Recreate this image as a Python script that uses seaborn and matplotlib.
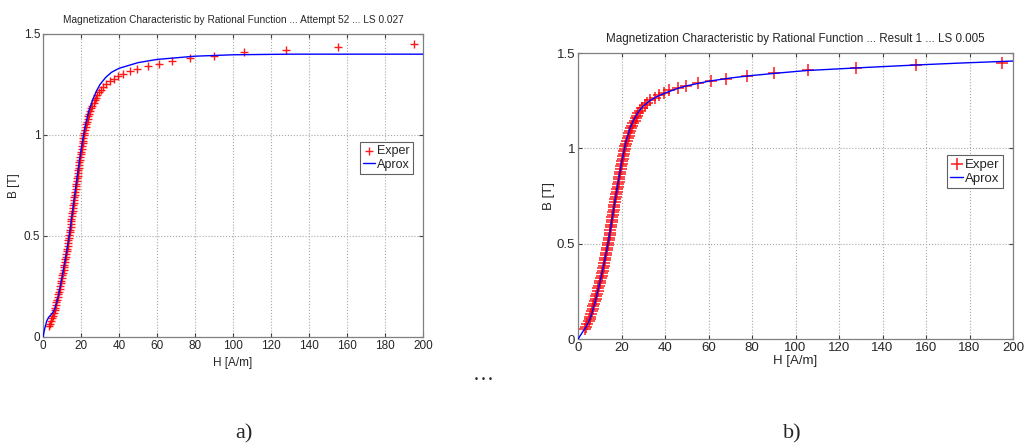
import pandas as pd
import seaborn as sns
import matplotlib.pyplot as plt

# experimental points (same set in both panels)
B_exp = [0.052, 0.065, 0.078, 0.092, 0.105, 0.118, 0.132, 0.145, 0.158, 0.172,
         0.185, 0.198, 0.212, 0.225, 0.238, 0.252, 0.265, 0.278, 0.292, 0.305,
         0.318, 0.332, 0.345, 0.358, 0.372, 0.385, 0.398, 0.412, 0.425, 0.438,
         0.452, 0.465, 0.478, 0.492, 0.505, 0.518, 0.532, 0.545, 0.558, 0.572,
         0.585, 0.598, 0.612, 0.625, 0.638, 0.652, 0.665, 0.678, 0.692, 0.705,
         0.718, 0.732, 0.745, 0.758, 0.772, 0.785, 0.798, 0.812, 0.825, 0.838,
         0.852, 0.865, 0.878, 0.892, 0.905, 0.918, 0.932, 0.945, 0.958, 0.972,
         0.985, 0.998, 1.012, 1.025, 1.038, 1.052, 1.065, 1.078, 1.092, 1.105,
         1.118, 1.132, 1.145, 1.158, 1.172, 1.185, 1.198, 1.212, 1.225, 1.238,
         1.251, 1.265, 1.278, 1.291, 1.304, 1.315, 1.327, 1.341, 1.352, 1.366,
         1.379, 1.393, 1.410, 1.421, 1.435, 1.449]
H_exp = [3.3, 3.8, 4.3, 4.9, 5.4, 5.7, 6.1, 6.4, 6.8, 7.1,
         7.4, 7.8, 8.1, 8.4, 8.7, 9.0, 9.3, 9.6, 9.9, 10.2,
         10.5, 10.8, 11.1, 11.3, 11.6, 11.8, 12.0, 12.3, 12.5, 12.7,
         13.0, 13.2, 13.4, 13.7, 13.9, 14.1, 14.3, 14.5, 14.7, 14.9,
         15.0, 15.2, 15.4, 15.6, 15.7, 15.9, 16.1, 16.3, 16.5, 16.7,
         16.9, 17.2, 17.4, 17.6, 17.8, 18.0, 18.2, 18.4, 18.6, 18.8,
         19.0, 19.2, 19.4, 19.7, 19.9, 20.1, 20.3, 20.6, 20.8, 21.0,
         21.2, 21.4, 21.8, 22.1, 22.5, 22.8, 23.2, 23.5, 23.9, 24.2,
         24.8, 25.4, 26.0, 26.6, 27.2, 27.7, 28.3, 29.4, 30.6, 31.7,
         32.9, 35.2, 37.4, 39.6, 42.0, 46.0, 49.7, 55.3, 61.0, 68.0,
         77.5, 90.0, 105.6, 127.7, 155.5, 195.0]

# approximation a) attempt 52
H_fit_a = [0, 1, 2, 3, 4, 5, 6, 7, 8, 10, 12, 14, 16, 18, 20, 22, 24, 26, 28, 30,
           33, 36, 40, 50, 60, 80, 100, 130, 200]
B_fit_a = [0, 0.045, 0.08, 0.098, 0.108, 0.118, 0.135, 0.165, 0.2, 0.295, 0.4,
           0.515, 0.655, 0.795, 0.925, 1.035, 1.115, 1.17, 1.215, 1.25,
           1.285, 1.31, 1.33, 1.358, 1.374, 1.39, 1.397, 1.4, 1.4]

# approximation b) result 1
H_fit_b = [0, 2, 4, 6, 8, 10, 12, 14, 16, 18, 20, 22, 24, 26, 28, 30, 33, 36, 40,
           46, 50, 60, 70, 80, 90, 105, 130, 155, 175, 200]
B_fit_b = [0, 0.035, 0.07, 0.12, 0.2, 0.295, 0.4, 0.515, 0.655, 0.795, 0.925,
           1.035, 1.11, 1.158, 1.195, 1.222, 1.25, 1.27, 1.29, 1.315, 1.328,
           1.352, 1.369, 1.382, 1.393, 1.408, 1.423, 1.437, 1.447, 1.458]

titles = ['Magnetization Characteristic by Rational Function ... Attempt 52 ... LS 0.027',
          'Magnetization Characteristic by Rational Function ... Result 1 ... LS 0.005']
panel_labels = ['a)', 'b)']

exp = pd.DataFrame({'H': H_exp, 'B': B_exp})
fits = [pd.DataFrame({'H': H_fit_a, 'B': B_fit_a}),
        pd.DataFrame({'H': H_fit_b, 'B': B_fit_b})]

sns.set_style('white')
plt.rcParams['font.family'] = ['Liberation Sans Narrow', 'Liberation Sans', 'DejaVu Sans']

fig = plt.figure(figsize=(10.26, 4.47), dpi=100)
axes = [fig.add_axes([0.0419, 0.2461, 0.3704, 0.6779]),
        fig.add_axes([0.5634, 0.2416, 0.4240, 0.6398])]

marker_size = [34, 70]
tick_fs = [8.5, 9.5]
title_fs = [7.3, 8.4]
leg_fs = [9, 9.5]
xpad = [4, 1]
ypad = [3, 1]
leg_anchor = [(0.974, 0.644), (0.977, 0.643)]

for i, ax in enumerate(axes):
    sns.scatterplot(ax=ax, data=exp, x='H', y='B', marker='+', color='red',
                    s=marker_size[i], linewidth=1.0 if i == 0 else 1.1,
                    alpha=0.9, label='Exper', zorder=3)
    sns.lineplot(ax=ax, data=fits[i], x='H', y='B', color='blue',
                 linewidth=1.0, label='Aprox', zorder=4, sort=False)
    ax.set_xlim(0, 200)
    ax.set_ylim(0, 1.5)
    ax.set_xticks(range(0, 201, 20))
    ax.set_yticks([0, 0.5, 1, 1.5])
    ax.set_yticklabels(['0', '0.5', '1', '1.5'])
    ax.grid(True, linestyle=':', color='#a8a8a8', linewidth=0.8)
    for sp in ax.spines.values():
        sp.set_color('#808080')
        sp.set_linewidth(0.9)
    ax.tick_params(direction='in', length=3, width=0.8, color='#404040',
                   labelsize=tick_fs[i], pad=2, top=True, right=True,
                   bottom=True, left=True)
    ax.set_title(titles[i], fontsize=title_fs[i], pad=8)
    ax.set_xlabel('H [A/m]', fontsize=tick_fs[i], labelpad=xpad[i])
    ax.set_ylabel('B [T]', fontsize=tick_fs[i], labelpad=ypad[i])
    leg = ax.legend(loc='upper right', bbox_to_anchor=leg_anchor[i], borderaxespad=0,
                    fancybox=False, edgecolor='#606060', fontsize=leg_fs[i],
                    handlelength=1.0, handletextpad=0.15, borderpad=0.25,
                    labelspacing=0.15, framealpha=1)
    leg.get_frame().set_linewidth(0.8)

fig.text(0.471, 0.159, '\u2026', ha='center', va='center', fontsize=15,
         family='Liberation Serif')
fig.text(0.238, 0.03, panel_labels[0], ha='center', va='center', fontsize=16,
         family='Liberation Serif')
fig.text(0.772, 0.03, panel_labels[1], ha='center', va='center', fontsize=16,
         family='Liberation Serif')

plt.savefig('out.png', dpi=100)
